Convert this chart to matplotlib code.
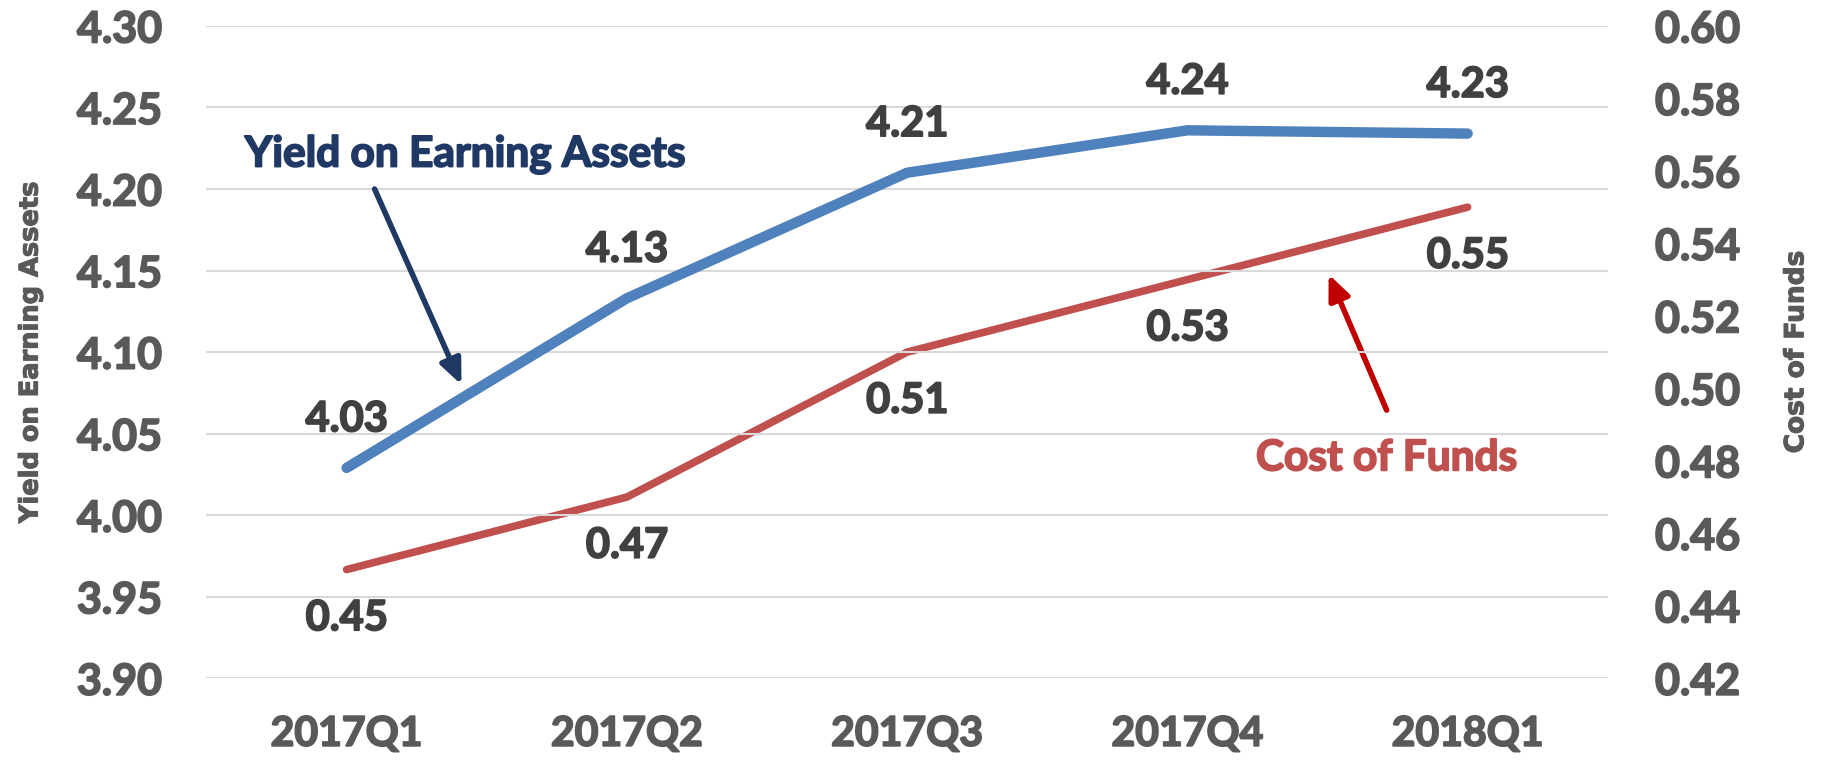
import numpy as np
import matplotlib
matplotlib.use("Agg")
import matplotlib.pyplot as plt
import matplotlib.patheffects as pe

quarters = ["2017Q1", "2017Q2", "2017Q3", "2017Q4", "2018Q1"]
yield_assets = [4.029, 4.133, 4.210, 4.236, 4.234]
cost_funds = [0.450, 0.470, 0.510, 0.530, 0.550]

left_ticks = [3.90, 3.95, 4.00, 4.05, 4.10, 4.15, 4.20, 4.25, 4.30]
right_ticks = [0.42, 0.44, 0.46, 0.48, 0.50, 0.52, 0.54, 0.56, 0.58, 0.60]

blue = "#4F81BD"
red = "#C0504D"
tick_gray = "#595959"
label_gray = "#404040"
navy = "#1F3864"
fam = ["Lato", "Open Sans", "DejaVu Sans"]


def heavy(color, w=1.3):
    # Lato bold is a bit lighter than the original font, thicken it a little
    return [pe.withStroke(linewidth=w, foreground=color)]


fig = plt.figure(figsize=(18.27, 7.63), dpi=100)
ax = fig.add_axes([0.113, 0.111, 0.767, 0.855])
ax2 = ax.twinx()

x = np.arange(len(quarters))

ax.set_ylim(3.90, 4.30)
ax.set_yticks(left_ticks)
ax.set_yticklabels([f"{v:.2f}" for v in left_ticks])
ax.grid(axis="y", color="#D9D9D9", linewidth=1.5)
ax.set_axisbelow(True)
ax.set_xlim(-0.5, len(quarters) - 0.5)
ax.set_xticks(x)
ax.set_xticklabels(quarters)

ax2.set_ylim(0.42, 0.60)
ax2.set_yticks(right_ticks)
ax2.set_yticklabels([f"{v:.2f}" for v in right_ticks])

for a in (ax, ax2):
    for s in a.spines.values():
        s.set_visible(False)
    a.tick_params(length=0, colors=tick_gray, labelsize=31)
    for lab in a.get_yticklabels():
        lab.set_family(fam)
        lab.set_fontweight("bold")
        lab.set_path_effects(heavy(tick_gray))
for lab in ax.get_xticklabels():
    lab.set_family(fam)
    lab.set_fontweight("bold")
    lab.set_fontsize(29.5)
    lab.set_path_effects(heavy(tick_gray))
ax.tick_params(axis="y", pad=32)
ax.tick_params(axis="x", pad=27)
ax2.tick_params(axis="y", pad=34)

ax2.plot(x, cost_funds, color=red, linewidth=5.5, solid_capstyle="round", zorder=3)
ax.plot(x, yield_assets, color=blue, linewidth=7.5, solid_capstyle="round", zorder=3)
ax.set_zorder(ax2.get_zorder() + 1)
ax.patch.set_visible(False)

for xi, v in zip(x, yield_assets):
    ax.annotate(f"{v:.2f}", (xi, v), xytext=(0, 35), textcoords="offset points",
                ha="center", va="center", fontsize=30, fontweight="bold",
                color=label_gray, family=fam, path_effects=heavy(label_gray))
for xi, v in zip(x, cost_funds):
    ax2.annotate(f"{v:.2f}", (xi, v), xytext=(0, -35), textcoords="offset points",
                 ha="center", va="center", fontsize=30, fontweight="bold",
                 color=label_gray, family=fam, path_effects=heavy(label_gray))

ax.set_ylabel("Yield on Earning Assets", fontsize=18.5, fontweight="bold",
              color=tick_gray, labelpad=24, path_effects=heavy(tick_gray, 0.8))
ax2.set_ylabel("Cost of Funds", fontsize=19, fontweight="bold",
               color=tick_gray, labelpad=31, path_effects=heavy(tick_gray, 0.8))

# callouts
ax.text(0.424, 4.221, "Yield on Earning Assets", ha="center", va="center",
        fontsize=30.5, fontweight="bold", color=navy, family=fam,
        path_effects=heavy(navy))
ax.annotate("", xy=(0.41, 4.080), xytext=(0.10, 4.200),
            arrowprops=dict(arrowstyle="-|>,head_length=1.5,head_width=0.65",
                            color=navy, lw=4, shrinkA=0, shrinkB=0))
ax2.text(3.711, 0.4807, "Cost of Funds", ha="center", va="center",
         fontsize=30.5, fontweight="bold", color=red, family=fam,
         path_effects=heavy(red))
ax2.annotate("", xy=(3.504, 0.5315), xytext=(3.711, 0.494),
             arrowprops=dict(arrowstyle="-|>,head_length=1.5,head_width=0.65",
                             color="#C00000", lw=4, shrinkA=0, shrinkB=0))

fig.savefig("out.png", dpi=100)
